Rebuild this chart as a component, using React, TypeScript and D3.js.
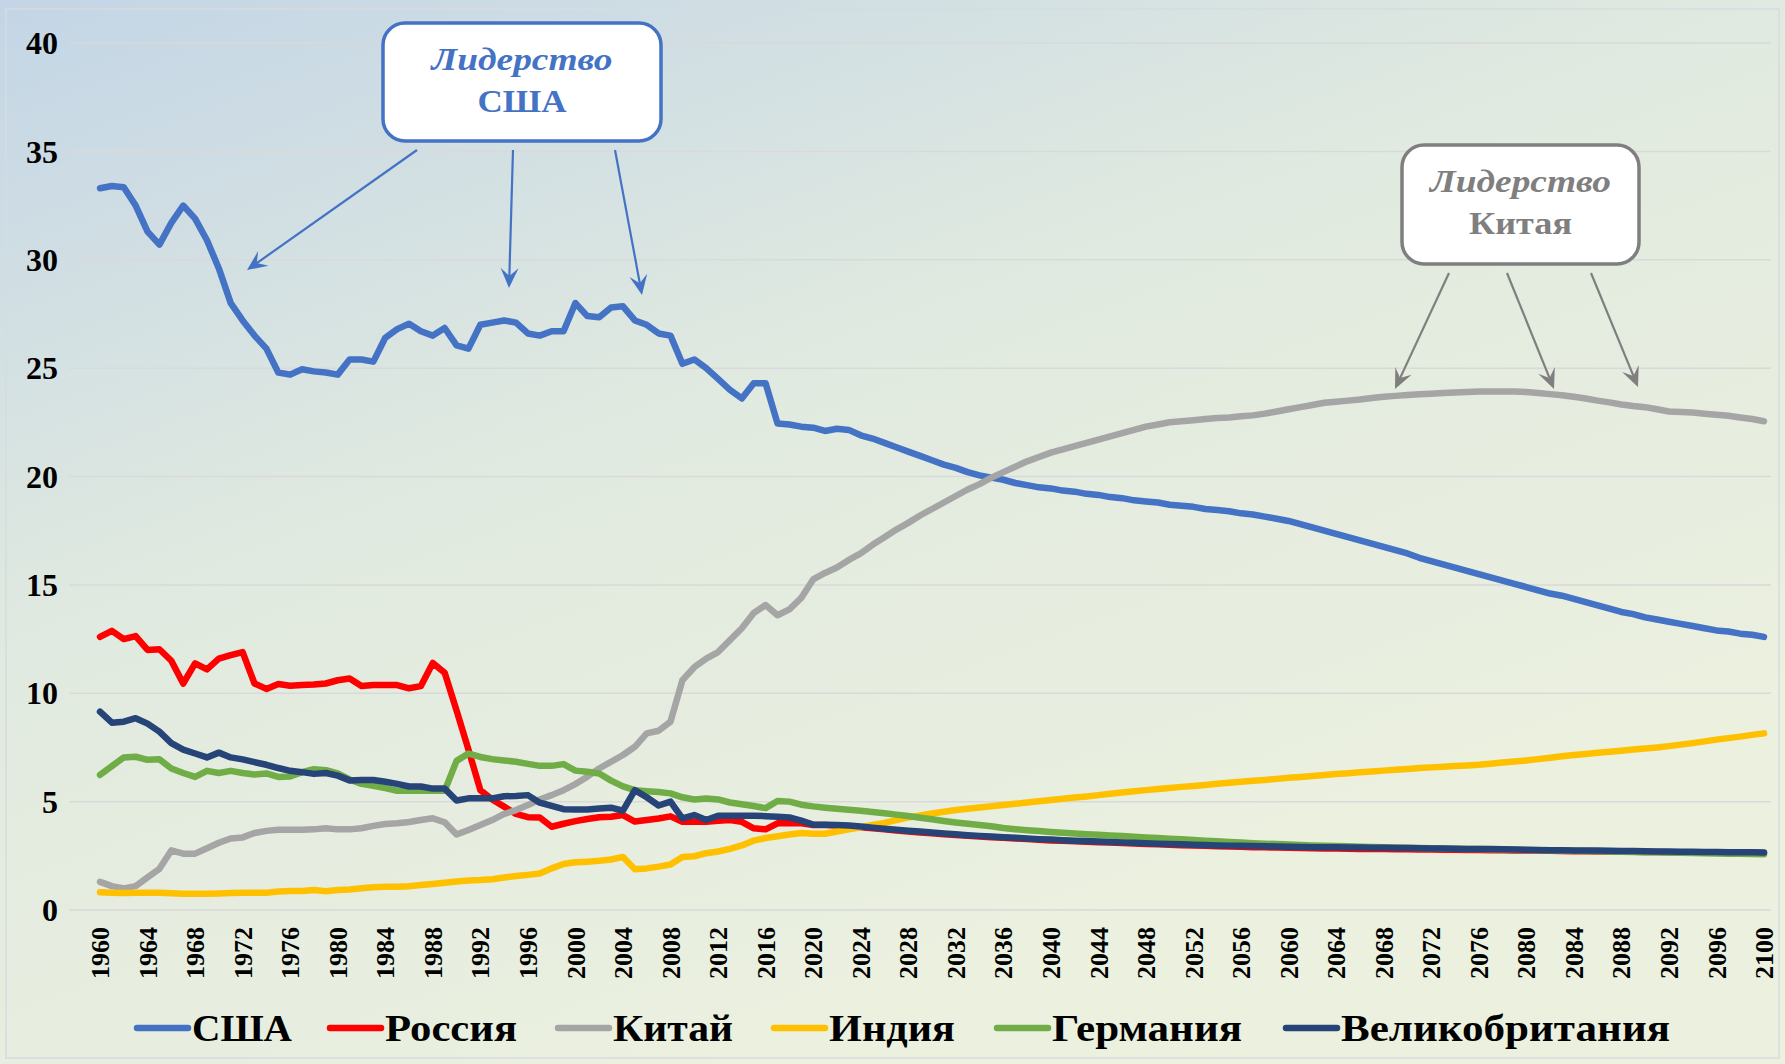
import * as d3 from "d3";

const years = d3.range(1960, 2101);
const tickYears = d3.range(1960, 2101, 4);
const yTicks = [0, 5, 10, 15, 20, 25, 30, 35, 40];

const usa = [
  33.3, 33.4, 33.35, 32.5, 31.3, 30.7, 31.7, 32.5, 31.9, 30.9,
  29.6, 28.0, 27.2, 26.5, 25.9, 24.8, 24.7, 24.95, 24.85, 24.8,
  24.7, 25.4, 25.4, 25.3, 26.4, 26.8, 27.05, 26.7, 26.5, 26.85,
  26.05, 25.9, 27.0, 27.1, 27.2, 27.1, 26.6, 26.5, 26.7, 26.7,
  28.0, 27.4, 27.35, 27.8, 27.85, 27.2, 27.0, 26.6, 26.5, 25.2,
  25.4, 25.0, 24.5, 24.0, 23.6, 24.3, 24.3, 22.45, 22.4, 22.3,
  22.25, 22.1, 22.2, 22.15, 21.9, 21.75, 21.55, 21.35, 21.15, 20.95,
  20.75, 20.55, 20.4, 20.2, 20.05, 19.95, 19.85, 19.7, 19.6, 19.5,
  19.45, 19.35, 19.3, 19.2, 19.15, 19.05, 19.0, 18.9, 18.85, 18.8,
  18.7, 18.65, 18.6, 18.5, 18.45, 18.4, 18.3, 18.25, 18.15, 18.05,
  17.95, 17.8, 17.65, 17.5, 17.35, 17.2, 17.05, 16.9, 16.75, 16.6,
  16.45, 16.25, 16.1, 15.95, 15.8, 15.65, 15.5, 15.35, 15.2, 15.05,
  14.9, 14.75, 14.6, 14.5, 14.35, 14.2, 14.05, 13.9, 13.75, 13.65,
  13.5, 13.4, 13.3, 13.2, 13.1, 13.0, 12.9, 12.85, 12.75, 12.7,
  12.6,
];

const russia = [
  12.6, 12.88, 12.5, 12.64, 12.0, 12.03, 11.5, 10.45, 11.38, 11.1,
  11.6, 11.76, 11.9, 10.45, 10.2, 10.43, 10.35, 10.38, 10.4, 10.45,
  10.6, 10.68, 10.33, 10.38, 10.38, 10.38, 10.23, 10.33, 11.4, 10.95,
  9.2, 7.4, 5.53, 5.1, 4.77, 4.43, 4.28, 4.27, 3.84, 3.98,
  4.1, 4.2, 4.28, 4.3, 4.38, 4.08, 4.15, 4.22, 4.32, 4.07,
  4.07, 4.07, 4.12, 4.15, 4.07, 3.77, 3.72, 4.0, 4.0, 4.0,
  3.92, 3.92, 3.9, 3.86, 3.82, 3.77, 3.72, 3.67, 3.62, 3.58,
  3.54, 3.5, 3.46, 3.42, 3.39, 3.36, 3.33, 3.3, 3.27, 3.24,
  3.21, 3.19, 3.17, 3.15, 3.13, 3.11, 3.09, 3.07, 3.05, 3.03,
  3.01, 2.99, 2.97, 2.96, 2.94, 2.93, 2.92, 2.9, 2.89, 2.88,
  2.87, 2.86, 2.85, 2.84, 2.84, 2.83, 2.82, 2.82, 2.81, 2.8,
  2.8, 2.79, 2.79, 2.78, 2.78, 2.77, 2.77, 2.76, 2.76, 2.75,
  2.75, 2.74, 2.73, 2.72, 2.71, 2.71, 2.7, 2.7, 2.69, 2.69,
  2.68, 2.68, 2.67, 2.67, 2.66, 2.66, 2.65, 2.65, 2.64, 2.64,
  2.63,
];

const china = [
  1.3, 1.1, 1.0, 1.1, 1.5, 1.9, 2.75, 2.6, 2.6, 2.85,
  3.1, 3.3, 3.35, 3.55, 3.65, 3.7, 3.7, 3.7, 3.72, 3.77,
  3.72, 3.72, 3.77, 3.88, 3.97, 4.0, 4.06, 4.15, 4.23, 4.05,
  3.48, 3.69, 3.92, 4.15, 4.43, 4.61, 4.84, 5.1, 5.3, 5.53,
  5.81, 6.15, 6.53, 6.84, 7.15, 7.53, 8.15, 8.27, 8.69, 10.6,
  11.2, 11.6, 11.9, 12.45, 13.0, 13.7, 14.07, 13.6, 13.87, 14.4,
  15.25, 15.55, 15.8, 16.15, 16.45, 16.85, 17.2, 17.55, 17.86, 18.2,
  18.5, 18.8, 19.1, 19.4, 19.65, 19.95, 20.2, 20.45, 20.7, 20.9,
  21.1, 21.25, 21.4, 21.55, 21.7, 21.85, 22.0, 22.15, 22.3, 22.4,
  22.5, 22.55, 22.6, 22.65, 22.7, 22.72, 22.78, 22.82, 22.9, 23.0,
  23.1, 23.2, 23.3, 23.4, 23.45, 23.5, 23.55, 23.62, 23.68, 23.72,
  23.76, 23.8, 23.82, 23.85, 23.88, 23.9, 23.92, 23.92, 23.92, 23.92,
  23.9, 23.85, 23.8, 23.75, 23.68, 23.6, 23.5, 23.42, 23.32, 23.25,
  23.2, 23.1, 23.0, 22.98, 22.95, 22.9, 22.85, 22.8, 22.72, 22.65,
  22.55,
];

const india = [
  0.82, 0.8, 0.78, 0.8, 0.8, 0.8, 0.77, 0.75, 0.75, 0.75,
  0.76, 0.78, 0.8, 0.8, 0.8, 0.85, 0.88, 0.88, 0.92, 0.87,
  0.92, 0.95, 1.0, 1.05, 1.07, 1.07, 1.1, 1.15, 1.2, 1.26,
  1.31, 1.36, 1.38, 1.42, 1.5, 1.57, 1.62, 1.68, 1.92, 2.12,
  2.2, 2.23, 2.27, 2.33, 2.45, 1.88, 1.92, 2.0, 2.1, 2.45,
  2.48, 2.62, 2.7, 2.82, 2.98, 3.2, 3.32, 3.4, 3.48, 3.55,
  3.52, 3.52, 3.62, 3.72, 3.82, 3.92, 4.02, 4.15, 4.27, 4.36,
  4.45, 4.53, 4.61, 4.67, 4.73, 4.79, 4.84, 4.9, 4.96, 5.02,
  5.07, 5.13, 5.19, 5.24, 5.3, 5.36, 5.42, 5.48, 5.53, 5.58,
  5.63, 5.68, 5.72, 5.77, 5.82, 5.87, 5.92, 5.96, 6.0, 6.05,
  6.1, 6.14, 6.18, 6.23, 6.27, 6.31, 6.35, 6.39, 6.43, 6.47,
  6.51, 6.55, 6.58, 6.61, 6.64, 6.67, 6.7, 6.75, 6.8, 6.85,
  6.9, 6.96, 7.02, 7.09, 7.15, 7.2, 7.25, 7.3, 7.35, 7.4,
  7.45, 7.5, 7.56, 7.63, 7.7, 7.78, 7.86, 7.93, 8.0, 8.08,
  8.15,
];

const germany = [
  6.23, 6.64, 7.04, 7.07, 6.93, 6.95, 6.53, 6.32, 6.14, 6.42,
  6.32, 6.42, 6.32, 6.25, 6.3, 6.14, 6.16, 6.36, 6.5, 6.45,
  6.3, 6.02, 5.82, 5.73, 5.62, 5.5, 5.5, 5.5, 5.5, 5.5,
  6.88, 7.22, 7.06, 6.96, 6.9, 6.84, 6.74, 6.65, 6.65, 6.73,
  6.43, 6.38, 6.3, 5.97, 5.7, 5.53, 5.48, 5.44, 5.38, 5.2,
  5.1, 5.14, 5.1, 4.96, 4.88, 4.8, 4.7, 5.03, 5.0, 4.86,
  4.78, 4.72, 4.67, 4.63, 4.58, 4.52, 4.46, 4.4, 4.34, 4.26,
  4.19, 4.11, 4.04, 3.98, 3.92, 3.86, 3.78, 3.73, 3.68, 3.64,
  3.6, 3.56, 3.53, 3.5, 3.47, 3.44, 3.41, 3.38, 3.35, 3.32,
  3.29, 3.26, 3.23, 3.2, 3.17, 3.14, 3.11, 3.08, 3.06, 3.04,
  3.02, 3.0, 2.98, 2.97, 2.95, 2.94, 2.92, 2.91, 2.9, 2.88,
  2.87, 2.86, 2.85, 2.84, 2.83, 2.82, 2.81, 2.8, 2.79, 2.78,
  2.77, 2.76, 2.75, 2.74, 2.73, 2.72, 2.71, 2.7, 2.69, 2.68,
  2.67, 2.66, 2.65, 2.64, 2.63, 2.62, 2.61, 2.6, 2.59, 2.58,
  2.57,
];

const uk = [
  9.15, 8.64, 8.69, 8.85, 8.6, 8.23, 7.7, 7.4, 7.22, 7.04,
  7.26, 7.04, 6.95, 6.82, 6.7, 6.55, 6.42, 6.36, 6.28, 6.32,
  6.2, 5.98, 6.0, 6.0, 5.92, 5.82, 5.7, 5.7, 5.6, 5.6,
  5.05, 5.15, 5.15, 5.15, 5.25, 5.26, 5.3, 4.95, 4.8, 4.65,
  4.64, 4.64, 4.68, 4.72, 4.58, 5.53, 5.2, 4.82, 5.0, 4.23,
  4.38, 4.15, 4.35, 4.35, 4.35, 4.35, 4.33, 4.3, 4.27, 4.12,
  3.94, 3.93, 3.92, 3.9, 3.85, 3.8, 3.75, 3.7, 3.66, 3.62,
  3.58, 3.53, 3.49, 3.45, 3.42, 3.39, 3.36, 3.33, 3.3, 3.27,
  3.25, 3.22, 3.2, 3.18, 3.16, 3.14, 3.12, 3.1, 3.08, 3.06,
  3.05, 3.03, 3.01, 3.0, 2.98, 2.97, 2.96, 2.95, 2.94, 2.93,
  2.92, 2.91, 2.9, 2.89, 2.89, 2.88, 2.88, 2.87, 2.87, 2.86,
  2.86, 2.85, 2.84, 2.84, 2.83, 2.82, 2.82, 2.81, 2.8, 2.79,
  2.78, 2.77, 2.76, 2.76, 2.75, 2.75, 2.74, 2.73, 2.72, 2.72,
  2.71, 2.7, 2.7, 2.69, 2.69, 2.68, 2.68, 2.67, 2.67, 2.66,
  2.65,
];

const seriesNames = ["США", "Россия", "Китай", "Индия", "Германия", "Великобритания"];
const seriesValues = [usa, russia, china, india, germany, uk];
const colors = ["#4472C4", "#FF0000", "#A5A5A5", "#FFC000", "#70AD47", "#264478"];

const W = 1785;
const H = 1064;
const serif = "'Liberation Serif', 'Times New Roman', serif";

const legendX = [137, 330, 558, 774, 997, 1286];
const legendTextW = [100, 132, 120, 126, 190, 329];

function Arrow({ x1, y1, x2, y2, color }: { x1: number; y1: number; x2: number; y2: number; color: string }) {
  const a = Math.atan2(y2 - y1, x2 - x1);
  const len = 20;
  const half = 9;
  const bx = x2 - len * Math.cos(a);
  const by = y2 - len * Math.sin(a);
  const nx = -Math.sin(a);
  const ny = Math.cos(a);
  const notchX = x2 - len * 0.6 * Math.cos(a);
  const notchY = y2 - len * 0.6 * Math.sin(a);
  const head = `M${x2},${y2} L${bx + nx * half},${by + ny * half} L${notchX},${notchY} L${bx - nx * half},${by - ny * half} Z`;
  return (
    <g>
      <line x1={x1} y1={y1} x2={notchX} y2={notchY} stroke={color} strokeWidth={2.2} />
      <path d={head} fill={color} />
    </g>
  );
}

function Callout({ x, y, w, h, color, line1, line2, w1, w2 }: any) {
  const cx = x + w / 2;
  return (
    <g>
      <rect x={x} y={y} width={w} height={h} rx={22} fill="#fff" stroke={color} strokeWidth={3.5} />
      <text x={cx} y={y + 47} textAnchor="middle" fill={color} fontFamily={serif} fontSize={32}
        fontStyle="italic" fontWeight="bold" textLength={w1} lengthAdjust="spacingAndGlyphs">{line1}</text>
      <text x={cx} y={y + 89} textAnchor="middle" fill={color} fontFamily={serif} fontSize={32}
        fontWeight="bold" textLength={w2} lengthAdjust="spacingAndGlyphs">{line2}</text>
    </g>
  );
}

export default function App() {
  const x = d3.scaleLinear([1960, 2100], [100, 1764]);
  const y = d3.scaleLinear([0, 40], [910, 43]);
  const line = d3.line<number>((d, i) => x(years[i]), (d) => y(d));

  return (
    <svg width={W} height={H} style={{ position: "absolute", left: 0, top: 0, display: "block" }}>
      <defs>
        <linearGradient id="bg" x1="0" y1="0" x2="0.55" y2="0.9">
          <stop offset="0" stopColor="#c3d5e6" />
          <stop offset="0.5" stopColor="#e1eae0" />
          <stop offset="1" stopColor="#ebf0df" />
        </linearGradient>
      </defs>
      <rect width={W} height={H} fill="url(#bg)" />
      <rect x={6} y={9} width={W - 12} height={H - 15} fill="none" stroke="#d6dbe0" strokeWidth={1.5} />

      {yTicks.map((t) => (
        <g key={t}>
          <line x1={69} x2={1771} y1={y(t)} y2={y(t)} stroke="#d9d9d9" strokeWidth={1.5} />
          <text x={58} y={y(t)} dy="0.35em" textAnchor="end" fontFamily={serif} fontWeight="bold"
            fontSize={32} fill="#000">{t}</text>
        </g>
      ))}

      {tickYears.map((yr) => (
        <text key={yr} transform={`translate(${x(yr)},927) rotate(-90)`} textAnchor="end" dy="0.35em"
          fontFamily={serif} fontWeight="bold" fontSize={26} fill="#000">{yr}</text>
      ))}

      {seriesValues.map((vals, i) => (
        <path key={i} d={line(vals) ?? ""} fill="none" stroke={colors[i]} strokeWidth={6.5}
          strokeLinejoin="round" strokeLinecap="round" />
      ))}

      <Callout x={383} y={23} w={278} h={118} color="#4472C4" line1="Лидерство" line2="США" w1={181} w2={89} />
      <Arrow x1={417} y1={150} x2={247} y2={270} color="#4472C4" />
      <Arrow x1={513} y1={150} x2={509} y2={288} color="#4472C4" />
      <Arrow x1={615} y1={150} x2={642} y2={295} color="#4472C4" />

      <Callout x={1402} y={145} w={237} h={119} color="#7F7F7F" line1="Лидерство" line2="Китая" w1={181} w2={103} />
      <Arrow x1={1449} y1={273} x2={1395} y2={389} color="#7F7F7F" />
      <Arrow x1={1507} y1={273} x2={1554} y2={389} color="#7F7F7F" />
      <Arrow x1={1591} y1={273} x2={1638} y2={387} color="#7F7F7F" />

      {seriesNames.map((name, i) => (
        <g key={name}>
          <line x1={legendX[i]} x2={legendX[i] + 51} y1={1028} y2={1028} stroke={colors[i]} strokeWidth={6.5}
            strokeLinecap="round" />
          <text x={legendX[i] + 55} y={1041} fontFamily={serif} fontWeight="bold" fontSize={38} fill="#000"
            textLength={legendTextW[i]} lengthAdjust="spacingAndGlyphs">{name}</text>
        </g>
      ))}
    </svg>
  );
}
